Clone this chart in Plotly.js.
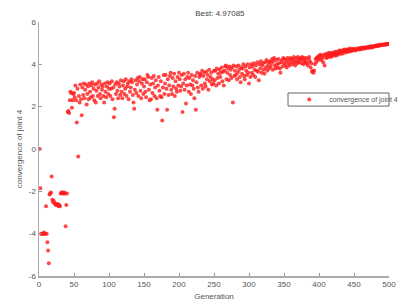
<!DOCTYPE html>
<html>
<head>
<meta charset="utf-8">
<script src="https://cdn.plot.ly/plotly-3.0.1.min.js"></script>
<style>
html,body{margin:0;padding:0;background:#fff;}
#chart{width:411px;height:304px;}
</style>
</head>
<body>
<div id="chart"></div>
<script>
const chartTitle = "Best: 4.97085";
const xLabel = "Generation";
const yLabel = "convergence of joint 4";
const seriesName = "convergence of joint 4";
const xTicks = [0, 50, 100, 150, 200, 250, 300, 350, 400, 450, 500];
const yTicks = [-6, -4, -2, 0, 2, 4, 6];

// best value of joint 4 per generation (generations 1..500)
const values = [
  0, -1.85, -4, -4, -4, -4, -3.95, -4, -4, -2.7,
  -4, -4.4, -4.8, -5.4, -2.15, -2.1, -2.05, -1.3, -2.4, -2.5,
  -2.45, -2.55, -2.6, -2.65, -2.6, -2.65, -2.6, -2.7, -2.65, -2.7,
  -2.1, -2.05, -2.1, -2.05, -2.1, -2.05, -2.1, -3.65, -2.65, -2.1,
  1.75, 1.8, 1.7, 2.3, 2.7, 2.65, 1.95, 2.3, 2.6, 2.65,
  2.45, 3.0, 2.3, 1.25, 2.85, -0.35, 2.5, 2.2, 3.05, 2.35,
  1.6, 2.9, 2.55, 3.1, 2.4, 2.8, 3.05, 2.1, 2.6, 2.95,
  2.35, 3.1, 2.7, 2.45, 3.0, 3.15, 2.5, 2.85, 2.3, 3.05,
  2.2, 2.75, 3.1, 2.5, 2.9, 3.2, 2.6, 2.4, 3.05, 2.8,
  2.95, 2.5, 2.2, 3.1, 2.7, 2.45, 2.95, 3.15, 2.6, 2.85,
  3.1, 2.5, 2.85, 3.2, 2.35, 2.9, 1.5, 1.9, 3.05, 2.6,
  3.15, 2.75, 2.4, 3.1, 2.95, 2.55, 3.25, 2.7, 2.4, 3.0,
  3.2, 2.6, 2.85, 3.3, 2.5, 2.95, 3.1, 2.35, 3.2, 2.7,
  2.9, 3.3, 3.15, 2.55, 2.2, 1.9, 2.8, 3.25, 2.65, 3.05,
  3.35, 2.5, 3.2, 3.4, 2.75, 2.4, 3.1, 3.3, 2.6, 2.95,
  3.3, 2.7, 2.45, 3.15, 3.5, 3.4, 2.8, 2.3, 3.05, 2.35,
  3.35, 2.65, 3.1, 3.45, 2.5, 2.9, 3.25, 2.4, 1.85, 3.0,
  3.4, 2.75, 2.5, 3.2, 2.45, 1.35, 2.9, 3.5, 2.6, 3.1,
  3.5, 2.85, 1.85, 3.3, 2.55, 3.0, 3.45, 3.6, 2.8, 2.6,
  3.35, 2.95, 3.55, 2.5, 3.2, 2.85, 2.7, 3.4, 3.0, 3.6,
  3.3, 2.75, 2.95, 3.5, 1.75, 3.1, 3.55, 2.8, 3.3, 2.15,
  3.0, 3.4, 3.6, 2.7, 3.35, 3.05, 2.6, 3.5, 3.0, 3.25,
  2.85, 2.4, 3.45, 1.85, 3.15, 3.6, 2.9, 2.7, 3.4, 3.55,
  3.5, 3.0, 3.7, 2.85, 3.45, 3.6, 3.1, 2.95, 3.65, 3.3,
  3.5, 2.8, 3.75, 3.2, 3.4, 3.6, 3.05, 3.3, 3.1, 3.7,
  3.25, 3.7, 3.0, 3.8, 3.35, 3.55, 3.1, 3.75, 3.4, 3.6,
  3.85, 3.2, 3.65, 3.0, 3.7, 3.9, 3.95, 3.3, 3.6, 3.8,
  3.25, 3.9, 3.5, 3.75, 3.35, 3.85, 2.2, 3.95, 3.45, 3.7,
  3.5, 3.9, 3.3, 3.6, 3.95, 3.75, 3.4, 3.15, 3.85, 3.55,
  3.8, 4.0, 3.45, 3.3, 3.9, 3.7, 3.5, 4.0, 3.6, 3.1,
  3.85, 3.4, 4.0, 3.6, 3.9, 3.5, 4.05, 3.75, 3.4, 3.95,
  3.7, 4.1, 3.65, 3.25, 4.0, 3.8, 4.15, 3.6, 3.95, 4.05,
  3.75, 3.55, 4.1, 3.85, 4.2, 3.7, 3.95, 4.1, 3.8, 4.15,
  3.9, 4.05, 4.25, 3.75, 4.15, 4.3, 3.95, 3.8, 4.2, 4.0,
  3.85, 4.25, 4.05, 3.8, 3.6, 4.1, 4.2, 3.9, 4.3, 4.05,
  4.25, 3.95, 4.15, 3.85, 4.3, 4.05, 4.2, 3.95, 4.3, 4.1,
  4.25, 4.0, 4.2, 4.35, 4.1, 3.95, 4.3, 4.15, 4.05, 4.35,
  4.2, 4.1, 4.3, 4.25, 4.05, 4.35, 4.2, 4.0, 4.3, 4.15,
  4.1, 4.3, 4.05, 3.95, 4.25, 4.35, 4.15, 3.85, 4.05, 3.65,
  3.7, 3.6, 3.7, 4.0, 4.25, 4.1, 4.3, 4.35, 4.2, 4.4,
  4.3, 4.45, 4.2, 4.4, 4.3, 4.1, 4.45, 3.95, 4.35, 4.5,
  4.3, 4.45, 4.35, 4.55, 4.4, 4.5, 4.35, 4.55, 4.45, 4.4,
  4.55, 4.45, 4.6, 4.4, 4.5, 4.6, 4.45, 4.55, 4.65, 4.5,
  4.6, 4.65, 4.5, 4.6, 4.65, 4.7, 4.55, 4.65, 4.7, 4.6,
  4.6, 4.7, 4.62, 4.75, 4.65, 4.62, 4.72, 4.66, 4.74, 4.68,
  4.7, 4.65, 4.7, 4.75, 4.7, 4.72, 4.75, 4.7, 4.78, 4.75,
  4.72, 4.78, 4.75, 4.8, 4.77, 4.75, 4.8, 4.78, 4.82, 4.8,
  4.78, 4.83, 4.8, 4.85, 4.82, 4.8, 4.85, 4.83, 4.87, 4.85,
  4.88, 4.85, 4.9, 4.87, 4.9, 4.88, 4.92, 4.9, 4.93, 4.91,
  4.93, 4.92, 4.95, 4.93, 4.95, 4.94, 4.96, 4.95, 4.97, 4.97
];
const generations = values.map((v, i) => i + 1);

const trace = {
  x: generations,
  y: values,
  type: 'scatter',
  mode: 'markers',
  name: seriesName,
  marker: {color: '#ff1a1a', size: 4, symbol: 'circle', opacity: 0.8}
};

const axisFont = {family: 'Liberation Sans, Arial, sans-serif', size: 8, color: '#555'};

const layout = {
  width: 411,
  height: 304,
  margin: {l: 39, r: 8, t: 22, b: 28},
  paper_bgcolor: '#ffffff',
  plot_bgcolor: '#ffffff',
  font: axisFont,
  showlegend: true,
  title: {
    text: chartTitle,
    font: {family: 'Liberation Sans, Arial, sans-serif', size: 8, color: '#444'},
    x: 0.535, xanchor: 'center',
    y: 1 - 13/304, yref: 'container', yanchor: 'middle'
  },
  xaxis: {
    range: [0, 500],
    tickvals: xTicks,
    ticktext: xTicks.map(String),
    ticks: 'inside', ticklen: 3, tickcolor: '#999',
    showline: true, linecolor: '#aaa', linewidth: 1.5,
    showgrid: false, zeroline: false,
    tickfont: axisFont,
    title: {text: xLabel, font: axisFont, standoff: 5}
  },
  yaxis: {
    range: [-6, 6],
    tickvals: yTicks,
    ticktext: yTicks.map(String),
    ticks: 'inside', ticklen: 3, tickcolor: '#999',
    showline: true, linecolor: '#aaa', linewidth: 1.5,
    showgrid: false, zeroline: false,
    tickfont: axisFont,
    title: {text: yLabel, font: axisFont, standoff: 5}
  },
  legend: {
    x: 0.715, y: 0.695, xanchor: 'left', yanchor: 'middle',
    bgcolor: 'rgba(0,0,0,0)', borderwidth: 0,
    font: {family: 'Liberation Sans, Arial, sans-serif', size: 7, color: '#555'},
    itemwidth: 30, tracegroupgap: 0
  },
  shapes: [{
    type: 'rect', xref: 'paper', yref: 'paper',
    x0: 0.7115, x1: 1.0, y0: 0.669, y1: 0.7205,
    line: {color: '#666', width: 1}, fillcolor: 'rgba(0,0,0,0)', layer: 'above'
  }]
};

Plotly.newPlot('chart', [trace], layout, {displayModeBar: false, staticPlot: true});
</script>
</body>
</html>
